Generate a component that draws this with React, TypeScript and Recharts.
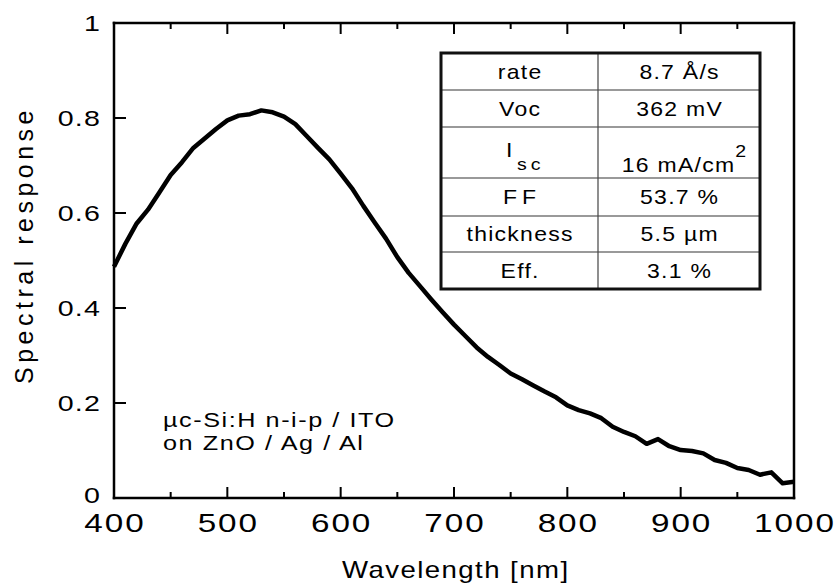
import React from 'react';
import { LineChart, Line, XAxis, YAxis, Customized } from 'recharts';

// spectral response, every 10 nm
const wavelengths = [
  400, 410, 420, 430, 440, 450, 460, 470, 480, 490,
  500, 510, 520, 530, 540, 550, 560, 570, 580, 590,
  600, 610, 620, 630, 640, 650, 660, 670, 680, 690,
  700, 710, 720, 730, 740, 750, 760, 770, 780, 790,
  800, 810, 820, 830, 840, 850, 860, 870, 880, 890,
  900, 910, 920, 930, 940, 950, 960, 970, 980, 990, 1000,
];
const response = [
  0.487, 0.535, 0.578, 0.607, 0.643, 0.68, 0.707, 0.737, 0.757, 0.777,
  0.795, 0.805, 0.808, 0.816, 0.812, 0.803, 0.787, 0.762, 0.737, 0.713,
  0.683, 0.652, 0.615, 0.58, 0.546, 0.507, 0.474, 0.446, 0.418, 0.391,
  0.365, 0.341, 0.317, 0.297, 0.28, 0.262, 0.25, 0.237, 0.224, 0.212,
  0.195, 0.185, 0.178, 0.168, 0.15, 0.139, 0.13, 0.114, 0.124, 0.109,
  0.101, 0.099, 0.094, 0.08, 0.074, 0.063, 0.059, 0.049, 0.054, 0.031, 0.034,
];
const xTicks = [400, 450, 500, 550, 600, 650, 700, 750, 800, 850, 900, 950, 1000];
const yTicks = [0, 0.2, 0.4, 0.6, 0.8, 1];

const tableLabels = ['rate', 'Voc', 'Isc', 'FF', 'thickness', 'Eff.'];
const tableValues = ['8.7 Å/s', '362 mV', '16 mA/cm2', '53.7 %', '5.5 µm', '3.1 %'];
const sampleLines = ['µc-Si:H n-i-p / ITO', 'on ZnO / Ag / Al'];

const data = wavelengths.map((w, i) => ({ w, r: response[i] }));

const FONT = '"Liberation Sans", Arial, Helvetica, sans-serif';
const axisLine = { stroke: '#000', strokeWidth: 2.5, strokeLinecap: 'square' as const };

// the original lettering is a bit wide, so stretch it horizontally
const SText = ({ x, y, size, sx = 1.25, ls = 0, anchor = 'start', children }: any) => {
  const dx = anchor === 'middle' ? ls / 2 : anchor === 'end' ? ls : 0;
  return (
    <text
      transform={`translate(${x},${y}) scale(${sx},1)`}
      x={dx}
      fontSize={size}
      letterSpacing={ls}
      textAnchor={anchor}
      fontFamily={FONT}
      fill="#000"
    >
      {children}
    </text>
  );
};

const BottomTick = ({ x, y, payload }: any) => {
  const v = payload.value;
  const major = v % 100 === 0;
  return (
    <g>
      {v > 400 && v < 1000 && (
        <line x1={x} x2={x} y1={y} y2={y - (major ? 11 : 6)} stroke="#000" strokeWidth={2} />
      )}
      {major && (
        <SText x={x} y={y + 34} size={26} sx={1.28} ls={1.5} anchor="middle">
          {v}
        </SText>
      )}
    </g>
  );
};

const TopTick = ({ x, y, payload }: any) => {
  const v = payload.value;
  if (v <= 400 || v >= 1000) return <g />;
  const major = v % 100 === 0;
  return <line x1={x} x2={x} y1={y} y2={y + (major ? 11 : 6)} stroke="#000" strokeWidth={2} />;
};

const LeftTick = ({ x, y, payload }: any) => {
  const v = payload.value;
  const label = v === 0 ? '0' : v === 1 ? '1' : v.toFixed(1);
  return (
    <g>
      {v > 0 && v < 1 && <line x1={x} x2={x + 12} y1={y} y2={y} stroke="#000" strokeWidth={2} />}
      <SText x={x - 14} y={y + (v === 0 ? 5 : 8)} size={22} sx={1.3} ls={1} anchor="end">
        {label}
      </SText>
    </g>
  );
};

const RightTick = ({ x, y, payload }: any) => {
  const v = payload.value;
  if (v <= 0 || v >= 1) return <g />;
  return <line x1={x} x2={x - 12} y1={y} y2={y} stroke="#000" strokeWidth={2} />;
};

const rowEdges = [53, 90, 127, 178, 216, 252, 289];
const T_LEFT = 441;
const T_MID = 598;
const T_RIGHT = 760;

const Annotations = () => {
  const leftC = (T_LEFT + T_MID) / 2;
  const rightC = (T_MID + T_RIGHT) / 2;
  return (
    <g fontFamily={FONT} fill="#000">
      {/* info table */}
      <rect x={T_LEFT} y={rowEdges[0]} width={T_RIGHT - T_LEFT} height={rowEdges[6] - rowEdges[0]} fill="#fff" stroke="none" />
      {rowEdges.slice(1, 6).map((ry) => (
        <line key={ry} x1={T_LEFT} x2={T_RIGHT} y1={ry} y2={ry} stroke="#777" strokeWidth={1.5} />
      ))}
      <line x1={T_MID} x2={T_MID} y1={rowEdges[0]} y2={rowEdges[6]} stroke="#444" strokeWidth={1.2} />
      <rect x={T_LEFT} y={rowEdges[0]} width={T_RIGHT - T_LEFT} height={rowEdges[6] - rowEdges[0]} fill="none" stroke="#111" strokeWidth={3} />
      {tableLabels.map((lab, i) => {
        const cy = (rowEdges[i] + rowEdges[i + 1]) / 2;
        if (lab === 'Isc') {
          return (
            <g key={lab}>
              <SText x={506} y={157} size={20} sx={1.15}>I</SText>
              <SText x={517} y={170} size={17} sx={1.15} ls={3.5}>sc</SText>
            </g>
          );
        }
        return (
          <SText key={lab} x={leftC} y={cy + 7} size={20} sx={1.15} ls={lab === 'FF' ? 4.5 : 1.1} anchor="middle">
            {lab}
          </SText>
        );
      })}
      {tableValues.map((val, i) => {
        const cy = (rowEdges[i] + rowEdges[i + 1]) / 2;
        if (val.endsWith('cm2')) {
          return (
            <SText key={val} x={684} y={172} size={20} sx={1.15} ls={1.1} anchor="middle">
              {val.slice(0, -1)}
              <tspan dy={-15} fontSize={17}>2</tspan>
            </SText>
          );
        }
        return (
          <SText key={val} x={rightC} y={cy + 7} size={20} sx={1.15} ls={1.1} anchor="middle">
            {val}
          </SText>
        );
      })}

      {/* sample description */}
      {sampleLines.map((t, i) => (
        <SText key={t} x={163} y={427 + i * 23} size={21} sx={1.2} ls={1.3}>
          {t}
        </SText>
      ))}

      {/* axis titles */}
      <SText x={455} y={578} size={23} sx={1.2} ls={1.2} anchor="middle">
        Wavelength [nm]
      </SText>
      <text transform="translate(33,247) rotate(-90)" textAnchor="middle" fontSize={25} letterSpacing={4.5} x={2}>
        Spectral response
      </text>
    </g>
  );
};

export default function App() {
  return (
    <div style={{ position: 'absolute', left: 0, top: 0, width: 835, height: 584, background: '#fff' }}>
      <LineChart width={835} height={584} data={data} margin={{ top: 0, right: 0, bottom: 0, left: 0 }}>
        <XAxis
          xAxisId="bottom"
          dataKey="w"
          type="number"
          domain={[400, 1000]}
          ticks={xTicks}
          height={86}
          tickSize={0}
          tickMargin={0}
          tickLine={false}
          axisLine={axisLine}
          tick={<BottomTick />}
          interval={0}
        />
        <XAxis
          xAxisId="top"
          orientation="top"
          dataKey="w"
          type="number"
          domain={[400, 1000]}
          ticks={xTicks}
          height={23}
          tickSize={0}
          tickMargin={0}
          tickLine={false}
          axisLine={axisLine}
          tick={<TopTick />}
          interval={0}
        />
        <YAxis
          yAxisId="left"
          type="number"
          domain={[0, 1]}
          ticks={yTicks}
          width={114}
          tickSize={0}
          tickMargin={0}
          tickLine={false}
          axisLine={axisLine}
          tick={<LeftTick />}
          interval={0}
        />
        <YAxis
          yAxisId="right"
          orientation="right"
          type="number"
          domain={[0, 1]}
          ticks={yTicks}
          width={41}
          tickSize={0}
          tickMargin={0}
          tickLine={false}
          axisLine={axisLine}
          tick={<RightTick />}
          interval={0}
        />
        <Line
          xAxisId="bottom"
          yAxisId="left"
          type="linear"
          dataKey="r"
          stroke="#000"
          strokeWidth={4.5}
          strokeLinejoin="round"
          dot={false}
          isAnimationActive={false}
        />
        <Customized component={<Annotations />} />
      </LineChart>
    </div>
  );
}
